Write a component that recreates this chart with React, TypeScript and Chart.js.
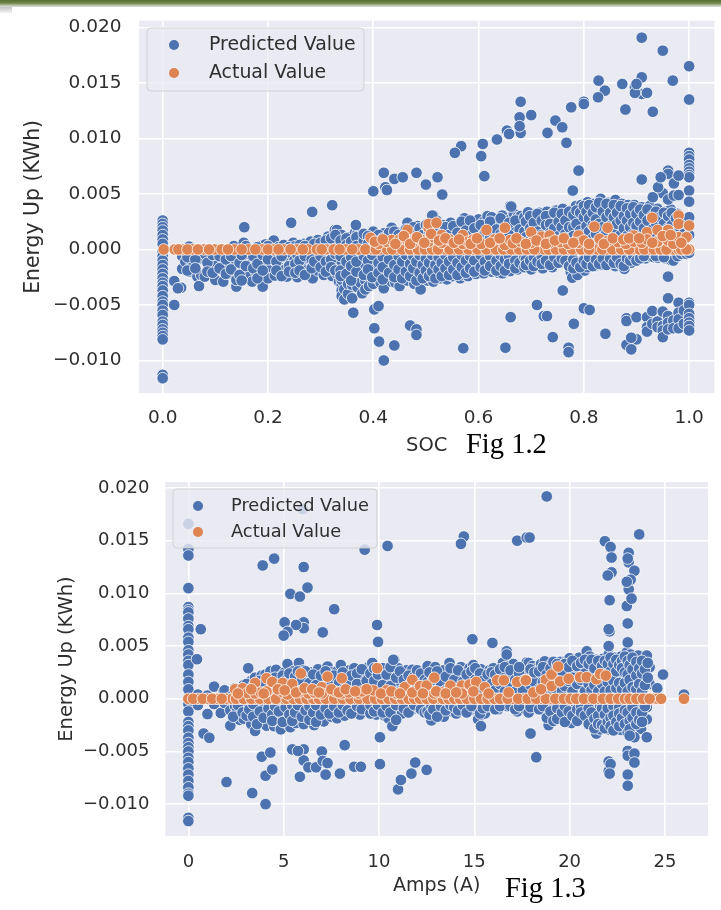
import React, { useEffect, useRef } from "react";
import { Chart, registerables } from "chart.js";

Chart.register(...registerables);

// All energy values below are in thousandths of a KWh; each row is [x, y, y, ...].
type Row = number[];

const legendNames = ["Predicted Value", "Actual Value"];
const socTicks = [0, 0.2, 0.4, 0.6, 0.8, 1];
const ampsTicks = [0, 5, 10, 15, 20, 25];
const energyTicks = [-0.01, -0.005, 0, 0.005, 0.01, 0.015, 0.02];

const predictedSocOutliers: Row[] = [
  [0.91, 19.07, 15.5, 14.0, 6.3], [0.95, 17.9, 5.06], [1.0, 16.5, 13.5, 8.7, 8.4, 8.1, 7.6, 7.3, 7.0, 6.7, 6.5, 5.3, 4.3],
  [0.969, 15.2], [0.828, 15.2], [0.873, 14.9], [0.897, 14.6, 14.1], [0.9, 14.9], [0.92, 14.1], [0.84, 14.3], [0.827, 13.7],
  [0.879, 12.6], [0.931, 12.4, 4.7], [0.8, 13.3, 13.1], [0.776, 12.8], [0.68, 13.3, 10.5], [0.7, 12.1], [0.678, 11.9, 11.1],
  [0.654, 10.7], [0.658, 10.4], [0.746, 11.6], [0.759, 11.0], [0.731, 10.5], [0.767, 9.6], [0.635, 9.9], [0.608, 9.5],
  [0.605, 8.4], [0.567, 9.3], [0.555, 8.7], [0.611, 6.6], [0.79, 7.1], [0.779, 5.3], [0.42, 6.9], [0.44, 6.35], [0.456, 6.5],
  [0.482, 6.9], [0.423, 5.6], [0.426, 5.35], [0.4, 5.24], [0.5, 5.84], [0.522, 6.5], [0.531, 4.94], [0.322, 3.98], [0.284, 3.38],
  [0.244, 2.4], [0.155, 2.0], [0.367, 2.2], [0.662, 3.86], [0.512, 3.05], [0.941, 5.6], [0.96, 4.5, 7.1, 6.8], [0.971, 4.85, 5.95],
  [0.98, 4.9, 6.65], [0.946, 6.5],
  [0.022, -5.0, -2.85], [0.035, -3.45], [0.029, -3.5], [0.362, -5.7], [0.402, -5.4, -7.1], [0.41, -5.1], [0.411, -8.3], [0.42, -10.0],
  [0.44, -8.65], [0.47, -6.85], [0.482, -7.2, -7.7], [0.571, -8.9], [0.651, -8.85], [0.661, -6.1], [0.711, -5.0], [0.724, -6.0],
  [0.73, -6.0], [0.741, -7.9], [0.771, -8.85, -9.25], [0.781, -6.7], [0.76, -3.7], [0.8, -5.3], [0.811, -5.45], [0.841, -7.6],
  [0.881, -6.2, -6.45, -8.6], [0.9, -6.1, -8.1], [0.89, -7.95, -9.0], [0.92, -6.1, -7.0, -7.4], [0.93, -5.55, -6.7], [0.94, -6.5, -7.0],
  [0.95, -5.6, -6.9, -7.3, -7.9], [0.96, -4.4, -6.0, -6.6, -7.2, -2.45], [0.97, -6.4, -7.1], [0.98, -4.8, -5.7, -6.3, -7.1],
  [0.99, -5.5, -6.7], [1.0, -4.8, -5.0, -5.8, -6.2, -6.6, -6.9, -7.3],
];

const predictedSocEdge: Row[] = [
  [0, 2.6, 2.3, 2.0, 1.7, 1.3, 0.9, 0.5, -0.2, -0.6, -1.0, -1.4, -1.8, -2.2, -2.6, -3.0, -3.3, -3.7, -4.2, -4.7, -5.0, -5.5, -5.9, -6.5, -6.8, -7.2, -7.5, -7.8, -8.1, -11.3, -11.6],
];

const predictedSocCloudLow: Row[] = [
  [0.037, -0.6, -1.75], [0.043, -1.1], [0.05, 0.25, -2.0], [0.055, -1.4], [0.058, -1.5], [0.066, -2.45], [0.069, -3.3], [0.07, -0.8],
  [0.073, -2.3], [0.08, -2.45, -0.4], [0.09, -1.65], [0.1, -1.0, -1.5, -2.75, -0.3], [0.115, -2.9], [0.124, -1.3], [0.127, -2.15],
  [0.135, -1.3, 0.3], [0.14, -3.35, -2.75], [0.154, -1.7, 0.6, -0.7], [0.16, -2.3, -1.1], [0.166, -2.3, -0.5], [0.17, -2.9, -1.2],
  [0.177, -2.0, -0.9], [0.186, -1.5, -2.5, 0.3], [0.19, -3.35], [0.195, 0.45, -0.7], [0.196, -1.25], [0.2, -1.85, -2.6], [0.205, -0.4, 0.5],
  [0.211, 0.8], [0.213, -2.35, -0.9], [0.22, -1.5, 0.2], [0.23, 0.4, -2.1], [0.233, -1.8, -0.7], [0.236, -2.45], [0.243, -1.2, -0.3],
  [0.248, 0.6, -1.6], [0.25, -1.0], [0.256, -2.5, -0.5], [0.262, -1.7], [0.268, 0.5, -1.2], [0.273, -1.9], [0.275, -0.8], [0.281, 0.7, -2.2],
  [0.285, -2.6, -1.4], [0.29, -0.4, 0.4], [0.295, 0.85, -1.9], [0.296, -0.8], [0.302, -1.3, 0.3], [0.306, -2.3, -0.7], [0.314, 1.15, -1.6],
  [0.316, 0.9, -1.85, -0.5], [0.322, -2.4, 0.6], [0.327, 1.75, -1.1], [0.331, 1.75, -0.6, -2.2], [0.335, -1.5, 0.9, -2.9],
  [0.34, 1.3, -3.2, -3.7, -4.2, -2.75, -1.1], [0.345, 0.6, -3.6, -4.5, -1.8], [0.352, 1.1, -2.4, -4.0, -3.1], [0.36, 0.4, -4.4, -3.2, -1.6],
  [0.365, 1.45, -2.5, -0.8], [0.37, 1.45, -3.4, -1.5, 0.5], [0.376, -2.1, -3.0], [0.379, -3.95, -0.9, 0.9],
];

const predictedSocCloudMid: Row[] = [
  [0.385, 1.1, -1.4, -2.8, -3.6], [0.392, 0.5, -2.2, -3.3], [0.4, 1.6, -3.1, -1.1, -2.0], [0.407, 0.8, -2.6, -1.6], [0.414, 0.4, -0.9, -3.0],
  [0.42, 1.45, -3.5, -1.9], [0.427, 0.9, -2.4, -1.2], [0.435, 1.95, -2.9, -0.6, -1.6], [0.442, 1.1, -2.0, -3.0], [0.45, 0.7, -3.3, -1.2],
  [0.457, 1.6, -2.3, -0.8], [0.465, 2.4, -1.6, -2.8], [0.472, 0.9, -2.0, -1.0], [0.478, 1.7, -3.1, -1.4], [0.484, 2.1, -2.4, -0.7],
  [0.49, 1.2, -3.6, -1.8], [0.497, 2.0, -2.2, -1.1], [0.503, 2.3, -1.5, -2.8], [0.509, 1.4, -2.5, -0.6], [0.514, 3.05, -1.7, -2.9],
  [0.52, 2.6, -1.0, -2.3], [0.527, 1.9, -2.6, -1.5], [0.533, 2.2, -1.9, -0.8], [0.54, 1.6, -2.7, -1.3], [0.547, 2.4, -2.0, -0.6],
  [0.55, 1.6, -2.4, -1.0], [0.557, 1.9, -1.5, -2.2], [0.565, 2.3, -2.6, -0.9], [0.573, 2.8, -1.7, -2.3], [0.58, 2.1, -2.4, -1.1],
  [0.587, 1.4, -1.9, -0.7], [0.595, 2.4, -2.2, -1.3], [0.6, 2.7, -1.5, -0.6], [0.61, 2.5, -2.15, -1.0], [0.617, 1.8, -1.6, 3.0],
  [0.625, 2.9, -1.2, -2.0], [0.63, 2.3, -1.8, -0.7], [0.638, 2.6, -1.1, -2.1], [0.645, 3.05, -2.15, -0.9], [0.652, 2.2, -1.5, 1.2],
  [0.66, 3.9, 2.7, -1.95, -0.8], [0.667, 1.9, -1.4, 3.2], [0.674, 2.9, -1.8, -0.6, 1.2], [0.68, 2.2, -1.1, 3.0],
];

const predictedSocCloudHigh: Row[] = [
  [0.687, 2.9, 1.6, -1.6, -0.7], [0.694, 3.35, 2.3, -1.2], [0.7, -1.8, 2.7, 1.4, -0.6], [0.708, 3.0, 2.0, -1.4], [0.715, 2.6, 3.3, -1.0, 1.1],
  [0.722, 2.2, 3.1, -1.7], [0.73, 3.4, 1.8, -0.7, -1.3], [0.74, 2.7, -1.6, 3.2, 1.2], [0.747, 3.5, 2.1, -0.9], [0.755, 2.8, -1.0, 1.5],
  [0.76, 3.65, 2.5, -0.6], [0.768, 3.0, 1.8, -1.3], [0.775, 3.5, 2.3, -0.8, -2.0], [0.778, -2.55, 2.9, 1.4], [0.785, 3.9, 2.6, -1.5],
  [0.788, -2.3, 3.3, 1.7], [0.795, 4.0, 3.0, 2.2, -1.1], [0.802, 3.5, 2.6, -1.9, -0.7], [0.807, 4.25, 3.2, -1.6, 1.6], [0.813, 3.8, 2.4, -1.2],
  [0.82, 4.1, 3.0, -1.5, -0.6], [0.826, 3.5, 2.6, -1.0], [0.832, 4.55, 3.1, 1.8, -1.4], [0.84, 3.8, 2.5, -1.2, -0.5], [0.846, 4.2, 3.2, 1.6],
  [0.853, 3.7, 2.5, -0.9], [0.86, 4.45, 3.3, -1.5], [0.866, 3.6, 2.1, -1.0], [0.872, 4.1, 2.9, -1.5], [0.877, 3.5, 2.4, -1.75, -0.7],
  [0.884, 3.2, 4.0, 1.7], [0.89, 3.6, 2.6, -1.2, -0.5], [0.896, 4.0, 2.9, -0.9], [0.903, 3.4, 2.2, -0.7], [0.91, 3.8, 2.7, 1.4],
  [0.917, 3.5, 2.4, -0.8], [0.925, 3.9, 3.0, 1.6, -0.6], [0.933, 3.3, 2.2, -0.7], [0.94, 3.65, 2.8, -0.75], [0.948, 3.1, 2.0, -0.6],
  [0.955, 3.4, 2.4, -0.8], [0.965, 3.6, 2.6, -0.95], [0.97, 2.9, 1.9, -1.0], [0.978, 3.2, 2.3, -0.6], [0.985, 2.6, 1.7, -0.4], [0.995, 2.7, 1.6, -0.4],
];

const predictedSocFillLeft: Row[] = [
  [0.047, -0.7, -1.9], [0.062, -0.9, -1.7], [0.085, -1.2, -2.0], [0.095, -0.5, -2.1], [0.108, -1.7, -0.6], [0.12, -2.2, -0.9], [0.13, -0.6, -1.8], [0.146, -1.2, -2.3],
  [0.15, -0.5, -2.8], [0.158, 0.3, -1.5], [0.172, -0.6, -1.7], [0.18, -2.6, -1.3, 0.2], [0.19, -0.5, -1.9], [0.2, 0.3, -0.9], [0.216, -1.1, -1.9], [0.226, -0.6, -2.4],
  [0.24, 0.2, -1.5, -2.0], [0.252, -1.3, -2.1, 0.3], [0.26, 0.4, -1.0, -1.9], [0.27, -0.6, -2.3, 0.3], [0.283, -0.9, -1.7], [0.288, 0.5, -1.1], [0.3, 0.6, -1.6, -0.6],
  [0.31, 0.8, -1.1, -2.0], [0.32, 1.0, -0.9, -1.6], [0.328, -0.4, -1.9, 1.3],
];

const predictedSocFillMid: Row[] = [
  [0.338, 0.8, -0.6, -1.9, -2.4], [0.349, 1.0, 0.4, -1.1, -2.2], [0.358, 0.7, -0.7, -1.5, -2.8], [0.368, 1.1, 0.3, -2.0, -1.1], [0.382, 0.8, 1.4, -0.6, -2.3],
  [0.39, 1.2, 0.5, -1.0, -1.8], [0.398, 0.9, -0.5, -2.5], [0.41, 1.3, 0.6, -1.2, -2.1], [0.418, 1.0, -0.7, -1.6, -2.7], [0.43, 1.5, 0.4, -0.9, -2.1], [0.44, 0.8, -1.4, -2.5, 1.6],
  [0.448, 1.3, 0.5, -0.6, -1.8], [0.455, 1.0, -1.1, -2.6], [0.462, 1.8, 0.6, -0.5, -2.0], [0.47, 1.4, -1.3, -2.4, 0.4], [0.476, 2.0, 0.9, -0.6, -1.7], [0.482, 1.5, 0.5, -1.1, -2.8],
  [0.488, 1.9, 0.8, -0.5, -2.1], [0.494, 1.3, -1.4, -2.6, 0.4], [0.5, 2.2, 0.9, -0.8, -1.9], [0.506, 1.7, 0.5, -1.2, -2.4], [0.512, 2.4, 0.7, -0.5, -2.0], [0.518, 1.5, -1.4, -2.6, 0.4],
  [0.524, 2.1, 0.8, -0.7, -1.8], [0.53, 1.4, 0.5, -1.2, -2.4], [0.537, 2.0, 0.9, -0.5, -1.7], [0.544, 1.3, 0.4, -1.1, -2.3], [0.552, 2.1, 0.8, -0.7, -1.8], [0.56, 1.5, 0.5, -1.2, -2.3],
  [0.568, 2.5, 1.0, -0.5, -1.6], [0.576, 1.7, 0.6, -1.0, -2.1], [0.584, 2.6, 1.2, -0.6, -1.7], [0.592, 1.9, 0.5, -1.0, -2.0], [0.604, 2.2, 1.1, -0.5, -1.6], [0.612, 1.5, 0.6, -1.1, -1.9],
  [0.622, 2.5, 1.2, -0.6, -1.5], [0.634, 1.8, 0.7, -1.0, -1.9], [0.642, 2.8, 1.4, -0.5, -1.5], [0.65, 1.7, 0.6, -0.9, -1.9], [0.658, 2.4, 1.3, -0.6, -1.3], [0.67, 2.6, 0.8, -1.0, -1.7], [0.678, 1.8, 0.5, -1.2],
];

const predictedSocFillHigh: Row[] = [
  [0.69, 2.5, 1.1, 0.5, -0.9, -1.4], [0.698, 3.0, 1.9, 0.8, -1.0], [0.705, 2.4, 1.2, -0.7, -1.5], [0.712, 3.2, 1.6, 0.6, -1.1], [0.72, 2.6, 1.3, -0.6, -1.3], [0.728, 3.0, 2.2, 0.9, -1.0],
  [0.736, 2.3, 1.5, 0.5, -1.4], [0.744, 3.3, 1.9, 0.8, -0.7], [0.752, 2.5, 1.2, -1.2], [0.758, 3.2, 2.0, 0.9, -0.8], [0.765, 2.6, 1.4, 0.6, -1.0], [0.772, 3.4, 2.0, 1.0, -1.5],
  [0.78, 3.1, 2.0, 1.2, -0.9, -1.7], [0.786, 3.5, 2.3, 0.8, -1.2], [0.793, 3.3, 1.7, 0.6, -1.6], [0.8, 3.9, 2.9, 1.4, -1.0], [0.805, 3.4, 2.1, 0.7, -1.3], [0.81, 4.0, 2.8, 1.6, -0.7],
  [0.817, 3.3, 2.2, 1.0, -1.5], [0.823, 3.8, 2.7, 1.4, -0.9], [0.829, 4.2, 2.3, 0.8, -1.3], [0.836, 3.4, 2.0, 1.1, -0.8], [0.843, 4.1, 2.9, 1.5, -1.4], [0.85, 3.3, 2.1, 0.7, -0.8],
  [0.857, 4.0, 2.9, 1.4, -1.2], [0.863, 3.3, 2.3, 0.9, -0.7], [0.87, 3.9, 2.6, 1.3, -1.3], [0.876, 3.0, 1.9, 0.6, -1.5], [0.882, 3.7, 2.6, 1.2, -0.8], [0.888, 3.2, 2.0, 0.9, -1.0],
  [0.894, 3.8, 2.4, 1.4, -0.6], [0.9, 3.2, 2.1, 0.8, -1.0], [0.907, 3.6, 2.5, 1.2, -0.8], [0.914, 3.1, 1.9, 0.7, -0.6], [0.921, 3.6, 2.6, 1.3], [0.93, 3.0, 1.8, 0.6], [0.937, 3.4, 2.4, 1.2, -0.6],
  [0.945, 2.9, 1.7, 0.7], [0.952, 3.3, 2.3, 1.1, -0.7], [0.96, 3.0, 1.9, 0.8], [0.967, 3.3, 2.2, 1.2], [0.975, 2.8, 1.6, 0.7], [0.982, 3.0, 2.0, 1.1], [0.99, 2.4, 1.4, 0.7], [1.0, 2.9, 2.1, 1.3, -0.3],
];

const actualSocZero: Row[] = [
  [0.002, 0], [0.023, 0], [0.038, 0], [0.056, 0], [0.078, 0], [0.098, 0], [0.112, 0], [0.136, 0], [0.163, 0], [0.19, 0], [0.21, 0], [0.23, 0], [0.255, 0],
  [0.276, 0], [0.293, 0], [0.31, 0], [0.325, 0], [0.347, 0], [0.372, 0], [0.398, 0], [0.412, 0], [0.426, 0], [0.445, 0], [0.464, 0], [0.478, 0], [0.492, 0],
  [0.505, 0], [0.518, 0], [0.528, 0], [0.537, 0], [0.553, 0], [0.572, 0], [0.59, 0], [0.605, 0], [0.625, 0], [0.64, 0], [0.654, 0], [0.669, 0], [0.684, 0],
  [0.7, 0], [0.712, 0], [0.725, 0], [0.74, 0], [0.754, 0], [0.77, 0], [0.785, 0], [0.804, 0], [0.815, 0], [0.826, 0], [0.845, 0], [0.862, 0], [0.88, 0],
  [0.893, 0], [0.905, 0], [0.925, 0], [0.94, 0], [0.952, 0], [0.962, 0], [0.971, 0], [0.98, 0], [0.99, 0], [1.0, 0],
];

const actualSocZeroExtra: Row[] = [
  [0.03, 0], [0.047, 0], [0.067, 0], [0.088, 0], [0.124, 0], [0.15, 0], [0.176, 0], [0.2, 0], [0.22, 0], [0.243, 0], [0.266, 0], [0.302, 0], [0.336, 0], [0.36, 0], [0.385, 0], [0.405, 0],
  [0.436, 0], [0.455, 0], [0.47, 0], [0.485, 0], [0.498, 0], [0.512, 0], [0.523, 0], [0.545, 0], [0.563, 0], [0.581, 0], [0.598, 0], [0.615, 0], [0.633, 0], [0.647, 0], [0.662, 0],
  [0.677, 0], [0.692, 0], [0.706, 0], [0.733, 0], [0.747, 0], [0.762, 0], [0.778, 0], [0.795, 0], [0.81, 0], [0.835, 0], [0.854, 0], [0.871, 0], [0.886, 0], [0.915, 0], [0.933, 0], [0.946, 0], [0.957, 0], [0.985, 0], [0.995, 0],
];

const actualSocRaised: Row[] = [
  [0.395, 1.05], [0.41, 0.5], [0.425, 0.7], [0.435, 0.85], [0.45, 0.9], [0.465, 1.75, 0.8], [0.475, 0.6], [0.49, 0.9], [0.505, 1.95, 2.3, 0.7], [0.515, 1.1], [0.52, 2.4],
  [0.53, 1.3, 0.6], [0.545, 0.9], [0.57, 1.3, 0.5], [0.58, 0.7], [0.59, 0.9], [0.605, 0.5], [0.615, 1.75], [0.63, 0.9], [0.65, 1.95, 0.4], [0.66, 0.85], [0.665, 0.55],
  [0.68, 0.7], [0.7, 1.55, 0.6], [0.72, 1.15], [0.735, 1.25, 0.6], [0.755, 0.65], [0.77, 0.5], [0.79, 1.25, 0.6], [0.8, 0.8], [0.82, 2.05], [0.83, 0.95], [0.845, 1.95, 0.75],
  [0.865, 0.65], [0.88, 0.5], [0.895, 1.25, 0.7], [0.91, 0.6], [0.92, 1.55, 0.9], [0.93, 2.85], [0.94, 1.75, 0.7], [0.96, 1.75, 0.8], [0.97, 0.5], [0.98, 3.05, 2.3, 1.1], [0.995, 1.1], [1.0, 2.15],
];

const actualSocRaisedExtra: Row[] = [
  [0.403, 0.7], [0.418, 0.9], [0.442, 0.5], [0.458, 1.2], [0.47, 0.5], [0.483, 1.1], [0.497, 0.6], [0.51, 1.4], [0.525, 0.8], [0.537, 1.0], [0.553, 0.6], [0.563, 0.9], [0.585, 0.5], [0.597, 1.0],
  [0.622, 0.6], [0.64, 1.0], [0.672, 1.0], [0.69, 0.5], [0.71, 0.8], [0.728, 0.5], [0.745, 0.8], [0.762, 1.0], [0.78, 0.6], [0.81, 0.5], [0.838, 0.5], [0.855, 1.0], [0.875, 0.9], [0.886, 1.0],
  [0.905, 1.0], [0.93, 0.6], [0.95, 1.2], [0.965, 1.3], [0.985, 0.6],
];

const predictedAmpsEdge: Row[] = [
  [0, 16.6, 14.2, 13.6, 10.5, 8.7, 8.4, 8.2, 7.6, 6.9, 6.6, 5.8, 5.4, 4.6, 4.2, 3.6, 3.2, 2.3, 1.6, 0.9, -0.5, -1.2, -2.2, -2.6, -3.0, -3.7, -4.2, -4.6, -5.0, -5.6, -6.0, -6.6, -7.2, -7.8, -8.4, -9.0, -9.2, -11.3, -11.6],
];

const predictedAmpsOutliers: Row[] = [
  [18.8, 19.2], [23.65, 15.6], [14.45, 15.4], [14.3, 14.7], [17.25, 15.0], [17.75, 15.3], [17.9, 15.3], [21.85, 14.95], [22.15, 14.4], [22.2, 13.4, 12.0],
  [23.1, 13.85, 12.95, 10.4], [23.05, 13.3, 7.15, 5.35], [23.4, 12.15], [22.0, 11.7], [23.2, 11.3], [23.0, 11.1, 8.8], [23.25, 9.5], [22.1, 9.35, 6.4], [22.05, 6.6, 5.0],
  [10.45, 14.5], [9.25, 14.15], [6.0, 18.0], [3.9, 12.65], [4.5, 13.3], [6.05, 12.5, 7.25, 6.7], [5.35, 9.95], [5.85, 9.7], [6.25, 10.55], [7.65, 8.5],
  [5.05, 7.25], [5.65, 7.0], [5.2, 6.35], [5.0, 6.0], [7.05, 6.3], [9.9, 7.0], [9.95, 5.4], [14.9, 5.65], [15.95, 5.3], [16.7, 4.5, 4.2], [10.75, 3.7],
  [0.65, 6.6], [0.45, 3.75], [2.0, -7.9], [3.35, -8.95], [4.05, -10.0, -7.3], [4.4, -6.7], [3.85, -5.5], [4.3, -5.1], [5.45, -4.8], [6.05, -4.8, -5.85], [5.75, -4.95],
  [5.85, -7.4], [6.3, -6.5], [6.7, -6.5], [7.0, -5.0], [7.05, -5.9], [7.3, -6.1], [7.2, -7.2], [7.95, -7.1], [8.2, -4.4], [8.7, -6.45], [9.05, -6.45],
  [10.05, -6.2, -3.65], [11.0, -8.6], [11.15, -7.7], [11.7, -7.1], [11.9, -6.05], [12.5, -6.75], [17.95, -3.3], [18.25, -5.55], [22.05, -5.95, -6.85],
  [22.15, -6.2], [22.1, -7.1], [23.05, -4.95, -5.4, -7.2, -8.25], [23.4, -5.2, -6.05, -3.65], [23.15, -3.5], [0.8, -3.3], [1.1, -3.7],
];

const predictedAmpsCloudLow: Row[] = [
  [0.5, 0.4, -0.6], [1.0, -1.45, 0.3], [1.35, 1.15, -0.5], [1.7, -1.35], [1.85, 0.7], [1.9, 0.8, -0.4], [2.2, -2.55, -1.1], [2.45, 1.0, -0.7], [2.55, -1.2], [2.7, 0.5, -2.0],
  [2.9, -1.9, 1.3], [3.14, 2.9, -0.8], [3.3, -2.4, 1.7], [3.5, -3.05, 2.0, -1.2], [3.7, 1.2, -1.9], [3.85, -2.3, 2.2, -0.6], [4.05, 2.3, -1.4], [4.1, -2.55, 1.2], [4.3, -1.8, 2.6, 0.5],
  [4.5, -1.1, 1.6, -2.6], [4.6, 2.75, -2.1], [4.7, -2.0, 1.4], [4.85, 2.1, -0.7, -2.9], [5.05, 1.1, -1.6, 2.5], [5.2, 3.3, -2.4, 0.8], [5.35, -2.7, 1.7, -1.0], [5.5, 2.6, -1.9], [5.65, 1.3, -0.7, -2.3],
  [5.8, 3.4, 2.0, -1.4], [6.05, -2.4, 1.4, -0.9, 2.7], [6.25, 2.2, -1.8], [6.45, 2.5, -1.1, 0.9], [6.6, -1.6, 1.7, -2.5], [6.8, 2.8, -0.8], [7.1, -2.15, 1.6, -1.2], [7.3, 3.05, 2.0, -0.7],
  [7.5, 1.2, -1.7, 2.5], [7.8, -1.85, 2.6, 0.8], [8.0, 3.2, 1.5, -1.0], [8.2, 2.1, -1.6], [8.45, 2.7, -0.7, 1.2], [8.7, 2.9, -1.3], [9.0, -1.5, 2.0, 1.0], [9.25, 2.6, -0.8], [9.45, 1.6, -1.2, 3.0],
  [9.65, 3.4, 2.2, -0.7], [9.85, 1.1, -1.5], [10.1, -1.0, 2.7, 1.6], [10.3, 2.1, -1.6], [10.5, -1.85, 2.8, 0.9], [10.7, -2.6, 1.7], [10.8, 3.7, 2.4, -0.8], [11.0, 1.3, -1.2, 2.9],
  [11.2, -1.4, 2.3], [11.45, 2.7, 1.5, -0.7], [11.75, 2.75, 1.1, -1.0], [12.1, -0.9, 2.2, 1.4], [12.3, 2.6, -0.6],
];

const predictedAmpsCloudMid: Row[] = [
  [12.55, 3.1, 1.6, -1.2], [12.75, -2.05, 2.3, -0.7], [12.95, 3.0, 1.3, -1.1], [13.15, 2.1, -1.5], [13.4, -1.7, 2.7, 1.1], [13.7, 3.4, 1.9, -0.8], [13.85, -1.2, 2.6], [14.05, 2.2, -1.4, 1.3],
  [14.3, 3.0, 1.9, -0.9], [14.5, -0.8, 2.5, 1.2], [14.75, 2.9, -1.1], [14.95, 3.2, 1.7, -0.6], [15.2, -1.95, 2.3, -1.0], [15.35, -2.6, 2.8], [15.55, 2.0, -1.4, 1.2], [15.8, 2.7, -0.7],
  [16.0, 2.9, 1.6, -0.75], [16.25, 2.2, -1.0], [16.5, 3.4, 1.5], [16.75, 2.4, -0.7], [17.05, 3.3, 2.0], [17.25, -1.2, 2.5], [17.5, 2.9, 1.3, -0.6], [17.65, -0.95, 2.2], [17.75, 3.45, 1.6],
  [17.85, 3.4, 2.6, -1.3], [18.05, 2.1, -0.7, 3.1], [18.3, 2.9, 1.4, -0.6], [18.5, 3.3, 2.2], [18.7, 3.55, 1.7, -1.2], [18.9, -2.5, 2.8, 0.9], [19.05, -1.85, 3.3, 1.5, -0.8],
  [19.25, 3.0, 2.2, -1.4], [19.5, 3.5, 2.5, -0.7], [19.7, 2.8, 1.4, -1.6], [19.85, 3.6, 2.0, -0.9], [20.0, 3.85, 2.7, -2.0, 1.2], [20.1, -2.3, 3.1], [20.3, 3.5, 2.3, -1.2, -0.6],
  [20.5, 3.9, 2.8, -1.7, 1.5], [20.7, 3.2, -1.1, 2.1], [20.9, 4.5, 3.0, -2.0, -0.8], [21.05, 4.0, 2.4, -1.4], [21.2, 3.4, 1.7, -2.3, -0.7],
];

const predictedAmpsCloudHigh: Row[] = [
  [21.4, -3.3, 3.7, 2.4, -1.2], [21.6, -2.9, 3.2, 1.8, -0.7], [21.75, 3.8, 2.6, -1.7], [21.9, 3.0, 1.6, -2.3, -1.0], [22.05, 4.2, 2.8, -1.85, -0.6, -2.9], [22.2, 3.5, 2.2, 1.2, -1.3],
  [22.35, 3.9, 2.9, -2.4, -0.8], [22.5, 3.3, 1.8, -1.7], [22.7, 4.0, 2.6, -2.95, -1.1], [22.85, 3.6, 2.2, 1.3, -2.2], [23.0, 4.4, 3.2, 2.0, -0.9, -2.7], [23.1, 3.9, 2.7, -1.6, -3.0],
  [23.2, 4.2, 3.3, -3.5, 1.5, -0.7], [23.35, 3.6, 2.4, -2.2, -1.2], [23.45, 3.0, 1.7, -0.8], [23.6, 4.1, 2.9, -1.6, -2.6], [23.75, 3.4, 2.1, -2.85, -1.0], [23.9, 3.1, 1.6, -1.9],
  [24.05, 4.1, 2.7, -3.65, -1.95, -0.8], [24.2, 3.0, 1.4], [24.6, 1.0], [24.9, 2.3], [26.0, 0.4],
];

const predictedAmpsFillLow: Row[] = [
  [2.35, 0.4, -1.7], [2.6, 0.9, -0.6], [2.85, 0.6, -1.3], [3.05, 1.4, -1.6], [3.2, 0.7, -1.0], [3.4, 1.2, -1.7, -0.5], [3.6, 0.8, -2.4], [3.75, 1.7, -1.2], [3.95, 0.6, -1.8, 1.4], [4.2, 1.9, -0.9], [4.4, 1.1, -1.5, -2.1],
  [4.55, 2.0, 0.7, -0.7], [4.75, 1.1, -1.2], [4.95, 2.2, 0.6, -2.2], [5.1, 1.7, -0.8], [5.3, 2.4, 0.5, -1.5], [5.45, 1.4, -2.1, -0.6], [5.6, 2.1, 0.7, -1.3], [5.75, 2.6, 1.2, -0.6], [5.95, 1.7, -1.7], [6.15, 2.6, 0.8, -1.1],
  [6.35, 1.5, -0.7, -2.0], [6.55, 2.3, 0.7, -1.3], [6.7, 1.3, -2.2, -0.6], [6.95, 2.2, 0.8, -1.5], [7.2, 2.6, 0.6, -0.9], [7.4, 1.8, -1.4], [7.65, 2.2, 0.7, -0.7], [7.9, 1.5, -1.3], [8.1, 2.5, 0.8, -0.6], [8.35, 1.6, -1.1],
  [8.55, 2.2, 0.7, -1.4], [8.85, 2.4, 1.4, -0.7], [9.1, 2.8, 0.6, -1.0], [9.35, 1.7, 0.7], [9.55, 2.4, -1.4, -0.6], [9.75, 1.7, 2.9, -1.2], [9.95, 2.3, 0.7, -0.6], [10.2, 1.3, -1.3, 2.9], [10.4, 2.3, -0.7], [10.6, 1.2, -1.3, 3.0],
  [10.9, 2.0, -2.0, -0.6], [11.1, 2.6, 0.7], [11.3, 1.8, -0.9], [11.55, 2.2, -1.3, 0.7], [11.85, 2.1, -0.6], [12.0, 1.4, 2.7], [12.2, 2.4, 0.7, -1.0], [12.4, 1.8, -1.3],
];

const predictedAmpsFillHigh: Row[] = [
  [12.65, 2.5, 0.8, -1.5], [12.85, 1.8, -1.0], [13.05, 2.6, 0.7, -1.7], [13.25, 1.4, -0.7], [13.5, 2.1, 0.8, -1.1], [13.75, 2.9, 1.2, -0.6], [13.95, 1.8, -0.8], [14.15, 2.7, 0.9, -1.1], [14.4, 1.6, -0.6], [14.6, 2.3, 0.8, -1.3],
  [14.85, 2.6, 1.3, -0.7], [15.05, 1.8, 2.9], [15.3, 2.4, 0.7, -1.4], [15.45, 1.7, -0.9], [15.7, 2.3, 0.9, -0.7], [15.9, 1.4, 2.5], [16.1, 2.3, 0.8, -1.0], [16.35, 2.8, 1.4, -0.7], [16.6, 2.0, 0.7, 3.0], [16.9, 2.7, 1.3, -0.7],
  [17.15, 1.8, 0.7, -1.0], [17.35, 2.4, 3.0, -0.7], [17.55, 1.7, 0.8], [17.95, 2.8, 1.3, -0.8], [18.15, 1.6, 2.5], [18.4, 2.6, 0.9, -1.0], [18.6, 3.0, 1.6, -0.7], [18.8, 2.3, 0.7, -1.8], [19.0, 2.9, 1.3, -1.2], [19.15, 3.5, 2.0, 0.7, -2.1],
  [19.35, 3.3, 1.5, -0.9, -1.9], [19.6, 2.6, 0.8, -1.3], [19.75, 3.3, 1.2, -0.7, -2.2], [19.95, 3.0, 1.7, -1.2], [20.15, 3.6, 2.0, 0.7, -1.6], [20.4, 3.1, 1.4, -1.0, -2.1], [20.6, 3.4, 1.8, -0.7, -1.3], [20.8, 3.7, 2.4, 0.7, -1.6],
  [21.0, 3.3, 1.4, -0.9, -2.4], [21.15, 3.7, 2.2, 0.8, -1.3], [21.3, 2.9, 1.3, -1.9, -2.8], [21.5, 3.6, 2.0, 0.7, -1.6, -2.4], [21.7, 3.1, 1.4, -0.9, -2.5], [21.85, 3.6, 2.3, 0.7, -1.5, -2.8], [22.0, 3.3, 1.6, -0.9, -2.2], [22.15, 3.9, 2.6, 0.8, -1.8, -2.6],
  [22.3, 3.3, 1.7, -0.7, -1.6, -3.0], [22.45, 3.7, 2.6, 1.0, -2.2], [22.6, 3.2, 1.5, -0.8, -1.4, -2.6], [22.75, 3.6, 2.9, 0.9, -1.8], [22.9, 4.0, 2.5, 1.5, -1.1, -2.4], [23.05, 3.6, 2.3, 0.7, -1.3, -3.2], [23.15, 3.2, 1.8, -2.1, -2.9],
  [23.3, 3.9, 2.8, 1.1, -0.8, -1.8], [23.5, 3.5, 2.2, 0.9, -1.3, -2.4], [23.65, 2.9, 1.4, -2.0], [23.8, 3.6, 2.4, 0.7, -1.3, -2.2], [23.95, 2.8, 1.3, -0.7], [24.1, 3.4, 2.0],
];

const actualAmpsZero: Row[] = [
  [0, 0], [0.5, 0], [1, 0], [1.5, 0], [2, 0], [2.3, 0], [2.7, 0], [3.1, 0], [3.5, 0], [4, 0], [4.4, 0], [4.8, 0], [5, 0], [5.3, 0], [5.7, 0], [6, 0], [6.4, 0], [6.7, 0], [7, 0],
  [7.4, 0], [7.9, 0], [8.3, 0], [8.7, 0], [9.2, 0], [9.6, 0], [10, 0], [10.3, 0], [10.7, 0], [11, 0], [11.4, 0], [11.7, 0], [12, 0], [12.3, 0], [12.7, 0], [13, 0], [13.2, 0],
  [13.5, 0], [13.8, 0], [14.1, 0], [14.4, 0], [14.8, 0], [15.2, 0], [15.5, 0], [15.9, 0], [16.2, 0], [16.5, 0], [17, 0], [17.6, 0], [18, 0], [18.5, 0], [19, 0], [19.5, 0],
  [19.9, 0], [20.2, 0], [20.5, 0], [21, 0], [21.5, 0], [22, 0], [22.3, 0], [22.8, 0], [23, 0], [23.3, 0], [23.7, 0], [24, 0], [24.4, 0], [24.6, 0], [24.8, 0], [26, 0],
];

const actualAmpsZeroExtra: Row[] = [
  [0.25, 0], [0.75, 0], [1.25, 0], [1.75, 0], [2.5, 0], [2.9, 0], [3.3, 0], [3.75, 0], [4.2, 0], [4.6, 0], [5.15, 0], [5.5, 0], [5.85, 0], [6.2, 0], [6.55, 0], [6.85, 0], [7.2, 0], [7.65, 0], [8.1, 0],
  [8.5, 0], [8.95, 0], [9.4, 0], [9.8, 0], [10.15, 0], [10.5, 0], [10.85, 0], [11.2, 0], [11.55, 0], [11.85, 0], [12.15, 0], [12.5, 0], [12.85, 0], [13.35, 0], [13.65, 0], [13.95, 0], [14.25, 0],
  [14.6, 0], [15, 0], [15.35, 0], [15.7, 0], [16.05, 0], [16.35, 0], [16.75, 0], [17.3, 0], [17.8, 0], [18.25, 0], [18.75, 0], [19.25, 0], [19.7, 0], [20.05, 0], [20.35, 0], [20.75, 0], [21.25, 0],
  [21.75, 0], [22.15, 0], [22.55, 0], [22.9, 0], [23.15, 0], [23.5, 0], [23.85, 0], [24.2, 0],
];

const actualAmpsRaised: Row[] = [
  [2.45, 0.9], [2.85, 1.0], [3.1, 0.55], [3.5, 1.5, 0.5], [3.8, 0.6], [4.1, 1.95, 0.7], [4.4, 1.6], [4.95, 1.5, 0.6], [5.2, 0.4], [5.45, 1.4], [5.9, 2.4, 0.7], [6.3, 0.5], [6.6, 0.6],
  [7.0, 1.1, 0.5], [7.3, 2.1], [7.7, 0.7], [8.05, 1.95, 0.5], [8.4, 0.6], [8.9, 0.5], [9.1, 0.7], [9.7, 0.8], [9.9, 2.9], [10.4, 0.8], [10.9, 0.5], [11.35, 1.1], [11.75, 1.8, 0.6],
  [12.15, 1.2], [12.5, 1.25], [12.9, 2.0, 0.5], [13.3, 0.6], [13.75, 1.25], [14.35, 1.25, 0.5], [14.75, 1.35], [15.1, 1.6], [15.55, 1.1], [16.2, 1.75], [16.55, 1.75], [17.25, 1.6],
  [17.7, 1.8, 1.75], [18.75, 1.8], [19.05, 2.3, 1.2], [19.4, 3.05], [19.5, 1.65], [19.95, 1.9], [20.55, 2.05], [20.9, 2.05], [21.4, 1.85], [21.6, 2.35], [21.9, 2.2],
];

const actualAmpsRaisedExtra: Row[] = [
  [2.6, 0.5], [3.3, 0.9], [3.95, 0.5], [4.7, 0.9], [5.05, 0.8], [5.65, 0.6], [6.1, 1.0], [6.5, 0.9], [6.85, 0.6], [7.5, 0.9], [7.9, 0.6], [8.25, 0.9], [8.75, 0.7], [9.35, 0.9], [10.1, 0.5], [10.65, 0.7],
  [11.1, 0.5], [12.3, 0.5], [13.0, 0.7], [13.5, 0.5], [14.05, 0.6], [14.95, 0.7], [15.75, 0.5], [16.8, 0.6], [18.1, 0.6], [18.5, 0.9],
];

const expand = (rows: Row[]) =>
  rows.flatMap(([x, ...ys]) => ys.map((y) => ({ x, y: y / 1000 })));

const BLUE = "#4c72b0";
const ORANGE = "#dd8452";
const TEXT = "#2e2e2e";
const FONT = "'DejaVu Sans'";

type Legend = { x: number; y: number; w: number; h: number; mx: number; tx: number; y1: number; y2: number; size: number };
type Spec = {
  xTitle: string;
  predicted: Row[];
  actual: Row[];
  xTicks: number[];
  digits: number;
  xMin: number;
  xMax: number;
  yMin: number;
  yMax: number;
  plotLeft: number;
  plotRight: number;
  plotTop: number;
  xBand: number;
  tickSize: number;
  yTickPad: number;
  xTickPad: number;
  yTitleSize: number;
  yTitlePad: number;
  xTitleSize: number;
  xTitlePad: number;
  legend: Legend;
};

function useScatter(ref: React.RefObject<HTMLCanvasElement | null>, s: Spec) {
  useEffect(() => {
    if (!ref.current) return;
    const chart = new Chart(ref.current, {
      type: "scatter",
      data: {
        datasets: [
          { label: legendNames[0], data: expand(s.predicted), backgroundColor: BLUE, borderColor: "#ffffff", borderWidth: 0.8, pointRadius: 5.8, order: 2 },
          { label: legendNames[1], data: expand(s.actual), backgroundColor: ORANGE, borderColor: "#ffffff", borderWidth: 0.8, pointRadius: 5.8, order: 1 },
        ],
      },
      options: {
        responsive: false,
        animation: false,
        layout: { padding: { top: s.plotTop, right: 721 - s.plotRight, left: 0, bottom: 0 } },
        plugins: { legend: { display: false }, tooltip: { enabled: false } },
        scales: {
          x: {
            type: "linear",
            min: s.xMin,
            max: s.xMax,
            afterFit: (a: any) => { a.height = s.xBand; a.paddingLeft = 0; a.paddingRight = 0; },
            afterBuildTicks: (a: any) => { a.ticks = s.xTicks.map((value) => ({ value })); },
            grid: { color: "#ffffff", lineWidth: 1.6, drawTicks: false },
            border: { display: false },
            ticks: { color: TEXT, padding: s.xTickPad, maxRotation: 0, autoSkip: false, font: { family: FONT, size: s.tickSize }, callback: (v: any) => Number(v).toFixed(s.digits) },
            title: { display: true, text: s.xTitle, color: TEXT, font: { family: FONT, size: s.xTitleSize }, padding: { top: 0, bottom: s.xTitlePad } },
          },
          y: {
            type: "linear",
            min: s.yMin,
            max: s.yMax,
            afterFit: (a: any) => { a.width = s.plotLeft; a.paddingTop = 0; a.paddingBottom = 0; },
            afterBuildTicks: (a: any) => { a.ticks = energyTicks.map((value) => ({ value })); },
            grid: { color: "#ffffff", lineWidth: 1.6, drawTicks: false },
            border: { display: false },
            ticks: { color: TEXT, padding: s.yTickPad, autoSkip: false, font: { family: FONT, size: s.tickSize }, callback: (v: any) => Number(v).toFixed(3).replace("-", "\u2212") },
            title: { display: true, text: "Energy Up (KWh)", color: TEXT, font: { family: FONT, size: s.yTitleSize }, padding: { top: s.yTitlePad, bottom: 0 } },
          },
        },
      },
      plugins: [
        {
          id: "plotBackground",
          beforeDraw(c: any) {
            const { left, top, width, height } = c.chartArea;
            c.ctx.save();
            c.ctx.fillStyle = "#eaeaf2";
            c.ctx.fillRect(left, top, width, height);
            c.ctx.restore();
          },
        },
        {
          id: "insetLegend",
          afterDatasetsDraw(c: any) {
            const l = s.legend;
            const ctx = c.ctx;
            ctx.save();
            ctx.beginPath();
            ctx.roundRect(l.x, l.y, l.w, l.h, 4);
            ctx.fillStyle = "rgba(234,234,242,0.8)";
            ctx.fill();
            ctx.strokeStyle = "rgba(204,204,204,0.8)";
            ctx.lineWidth = 1;
            ctx.stroke();
            ctx.font = `${l.size}px ${FONT}`;
            ctx.textBaseline = "middle";
            [l.y1, l.y2].forEach((yy, i) => {
              ctx.beginPath();
              ctx.arc(l.mx, yy, 5, 0, Math.PI * 2);
              ctx.fillStyle = i === 0 ? BLUE : ORANGE;
              ctx.fill();
              ctx.fillStyle = TEXT;
              ctx.fillText(legendNames[i], l.tx, yy);
            });
            ctx.restore();
          },
        },
      ],
    });
    return () => chart.destroy();
  }, []);
}

const figStyle: React.CSSProperties = {
  position: "absolute",
  fontFamily: "'Liberation Serif', serif",
  fontSize: 28.5,
  lineHeight: "32px",
  color: "#000",
  whiteSpace: "nowrap",
};

export default function App() {
  const topRef = useRef<HTMLCanvasElement>(null);
  const bottomRef = useRef<HTMLCanvasElement>(null);

  useScatter(topRef, {
    xTitle: "SOC",
    predicted: [...predictedSocEdge, ...predictedSocCloudLow, ...predictedSocFillLeft, ...predictedSocCloudMid, ...predictedSocFillMid, ...predictedSocCloudHigh, ...predictedSocFillHigh, ...predictedSocOutliers],
    actual: [...actualSocZero, ...actualSocZeroExtra, ...actualSocRaised, ...actualSocRaisedExtra],
    xTicks: socTicks,
    digits: 1,
    xMin: -0.045,
    xMax: 1.048,
    yMin: -0.01293,
    yMax: 0.0206,
    plotLeft: 139,
    plotRight: 716,
    plotTop: 20.7,
    xBand: 67,
    tickSize: 18.5,
    yTickPad: 17.5,
    xTickPad: 14,
    yTitleSize: 20.4,
    yTitlePad: 21,
    xTitleSize: 19.5,
    xTitlePad: 2,
    legend: { x: 147, y: 28, w: 217, h: 63, mx: 174, tx: 209, y1: 45, y2: 73, size: 18.9 },
  });

  useScatter(bottomRef, {
    xTitle: "Amps (A)",
    predicted: [...predictedAmpsEdge, ...predictedAmpsCloudLow, ...predictedAmpsFillLow, ...predictedAmpsCloudMid, ...predictedAmpsCloudHigh, ...predictedAmpsFillHigh, ...predictedAmpsOutliers],
    actual: [...actualAmpsZero, ...actualAmpsZeroExtra, ...actualAmpsRaised, ...actualAmpsRaisedExtra],
    xTicks: ampsTicks,
    digits: 0,
    xMin: -1.2,
    xMax: 27.26,
    yMin: -0.01302,
    yMax: 0.02057,
    plotLeft: 165.5,
    plotRight: 708,
    plotTop: 12,
    xBand: 74,
    tickSize: 18,
    yTickPad: 16,
    xTickPad: 16,
    yTitleSize: 19.4,
    yTitlePad: 55,
    xTitleSize: 19,
    xTitlePad: 13,
    legend: { x: 173, y: 19, w: 204, h: 59, mx: 198, tx: 231, y1: 36, y2: 62, size: 17.8 },
  });

  return (
    <div style={{ position: "absolute", left: 0, top: 0, width: 721, height: 910, overflow: "hidden", background: "#fff" }}>
      <canvas ref={topRef} width={721} height={460} style={{ position: "absolute", left: 0, top: 0, display: "block" }} />
      <canvas ref={bottomRef} width={721} height={440} style={{ position: "absolute", left: 0, top: 470, display: "block" }} />
      <div style={{ position: "absolute", left: 0, top: 0, width: 721, height: 7, background: "linear-gradient(#54702f, #70894b 45%, #a9b59a 70%, #dfe2da)" }} />
      <div style={{ position: "absolute", left: 0, top: 7, width: 12, height: 6, background: "linear-gradient(#c4c4c4, #f4f4f4)" }} />
      <div style={{ ...figStyle, left: 466, top: 428 }}>Fig 1.2</div>
      <div style={{ ...figStyle, left: 505, top: 872 }}>Fig 1.3</div>
    </div>
  );
}
